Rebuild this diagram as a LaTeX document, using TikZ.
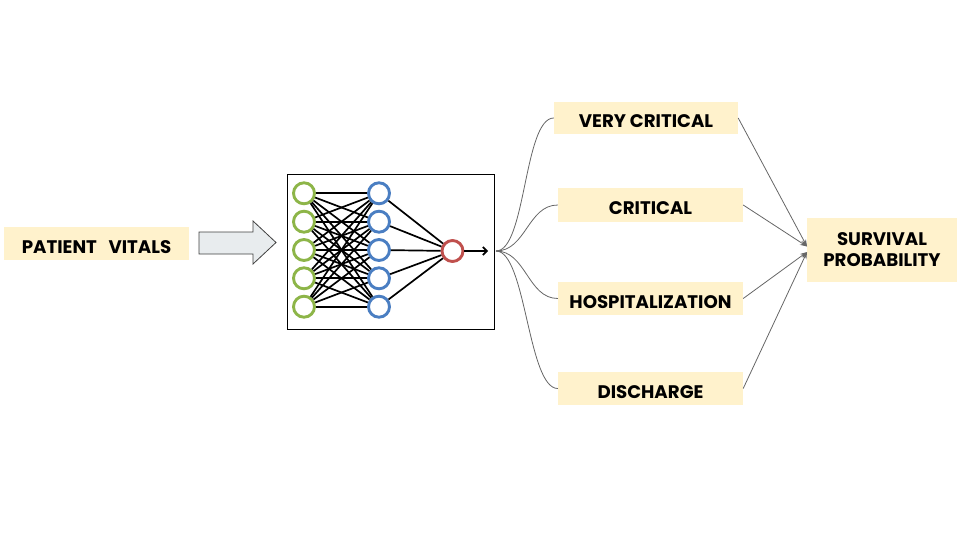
\documentclass[tikz,border=0pt]{standalone}
\usepackage{fontspec}
\setmainfont{Poppins}
\usetikzlibrary{arrows.meta,calc}
\definecolor{boxfill}{HTML}{FFF2CC}
\definecolor{arrfill}{HTML}{E8ECEE}
\definecolor{arrdraw}{HTML}{404040}
\definecolor{ngreen}{HTML}{8DB548}
\definecolor{nblue}{HTML}{4A7EC2}
\definecolor{nred}{HTML}{C0504D}
\definecolor{conn}{HTML}{666666}
\newcommand{\lblfont}{\fontsize{18.2}{21}\selectfont\bfseries}
\begin{document}
\begin{tikzpicture}[x=1pt,y=-1pt,
  lbox/.style={fill=boxfill, draw=none, inner sep=0pt, font=\lblfont, text=black},
  onel/.style={text height=19pt, text depth=0pt},
  neuron/.style={circle, minimum size=21pt, inner sep=0pt, line width=2.9pt, fill=white},
  nnedge/.style={line width=1.7pt, black},
  conline/.style={draw=conn, line width=0.8pt},
  convarrow/.style={draw=conn, line width=0.8pt, -{Stealth[length=7pt,width=5pt]}}
]
\useasboundingbox (0,0) rectangle (960,540);

% input label
\node[lbox, onel, minimum width=185pt, minimum height=33pt] (pv) at (96.5,243.5) {PATIENT\ \ \ VITALS};

% block arrow
\path[fill=arrfill, draw=arrdraw, line width=0.8pt]
  (199,232) -- (253,232) -- (253,221) -- (276,242.5) -- (253,264) -- (253,254) -- (199,254) -- cycle;

% network box
\node[draw=black, line width=1pt, minimum width=207pt, minimum height=154pt, inner sep=0pt] (nn) at (390.5,252) {};

\foreach \i/\y in {1/193.3,2/221.7,3/250,4/278.3,5/306.7}{
  \node[neuron, draw=ngreen] (g\i) at (304,\y) {};
  \node[neuron, draw=nblue] (b\i) at (379,\y) {};
}
\node[neuron, draw=nred] (r) at (452.5,251) {};
\coordinate (nnout) at (488,251);

\foreach \i in {1,...,5}{
  \foreach \j in {1,...,5}{
    \draw[nnedge] (g\i) -- (b\j);
  }
  \draw[nnedge] (b\i) -- (r);
}
\draw[nnedge, -{Straight Barb[length=4pt,width=8pt]}] (r) -- (nnout);

% output classes
\coordinate (fan) at (496,251);
\node[lbox, onel, minimum width=184pt, minimum height=32pt] (vc) at (646,118) {VERY CRITICAL};
\node[lbox, onel, minimum width=185pt, minimum height=34pt] (cr) at (650.5,205) {CRITICAL};
\node[lbox, onel, minimum width=185pt, minimum height=33pt] (ho) at (650.5,298.5) {HOSPITALIZATION};
\node[lbox, onel, minimum width=185pt, minimum height=33pt] (di) at (650.5,388.5) {DISCHARGE};
\node[lbox, minimum width=150pt, minimum height=64pt, align=center] (sp) at (882,249.5) {SURVIVAL\\PROBABILITY};

\foreach \n in {vc,cr,ho,di}{
  \draw[conline] (fan) .. controls +(30,0) and +(-30,0) .. (\n.west);
}

\coordinate (spa) at (807,246.5);
\coordinate (spb) at (807,252);
\draw[convarrow] (vc.east) -- (spa);
\draw[convarrow] (cr.east) -- (spa);
\draw[convarrow] (ho.east) -- (spb);
\draw[convarrow] (di.east) -- (spb);
\end{tikzpicture}
\end{document}
